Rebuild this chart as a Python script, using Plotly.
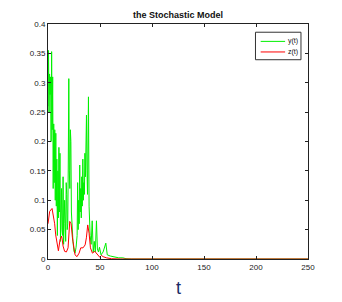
import plotly.graph_objects as go

# y(t) series (green)
t_y = [0, 0.5, 1, 1.5, 2, 2.5, 3, 3.5, 4, 4.5, 5, 5.5, 6, 6.5, 7, 7.5, 8, 8.5, 9, 9.5,
       10, 10.5, 11, 11.5, 12, 12.5, 13, 13.5, 14, 14.5, 15, 15.5, 16, 16.5, 17, 17.5,
       18, 18.5, 19, 19.5, 20, 20.5, 21, 21.5, 22, 22.5, 23, 24, 25, 26, 27, 28, 28.5,
       29, 29.5, 30, 30.5, 31, 31.5, 32, 32.5, 33, 33.5, 34, 34.5, 35, 35.5, 36, 36.5,
       37, 37.5, 38, 38.9, 39.5, 40.5, 41.5, 42.5, 43.5, 44.5, 45.5, 46.6, 47.5, 48.5,
       49.5, 51, 53, 55.6, 57, 60, 62, 65, 68, 72, 75, 80, 150, 250]
y_vals = [0.26, 0.355, 0.25, 0.315, 0.28, 0.31, 0.2, 0.353, 0.22, 0.31, 0.12, 0.23, 0.13,
          0.22, 0.1, 0.214, 0.09, 0.17, 0.04, 0.15, 0.07, 0.19, 0.08, 0.18, 0.03, 0.09,
          0.12, 0.05, 0.04, 0.14, 0.025, 0.06, 0.1, 0.04, 0.03, 0.13, 0.11, 0.05, 0.06,
          0.16, 0.307, 0.15, 0.12, 0.22, 0.2, 0.08, 0.06, 0.03, 0.013, 0.01, 0.02, 0.04,
          0.13, 0.05, 0.1, 0.06, 0.16, 0.08, 0.12, 0.07, 0.14, 0.09, 0.17, 0.1, 0.13,
          0.11, 0.18, 0.14, 0.2, 0.245, 0.15, 0.11, 0.276, 0.09, 0.04, 0.025, 0.065,
          0.012, 0.03, 0.012, 0.065, 0.017, 0.012, 0.02, 0.007, 0.012, 0.027, 0.007,
          0.005, 0.004, 0.003, 0.002, 0.002, 0.0005, 0, 0, 0]

# z(t) series (red)
t_z = [0, 0.6, 1.6, 3.9, 4.8, 6.4, 7.4, 8.7, 10, 11.6, 13.2, 14.5, 16, 17.7, 19.3, 20.9,
       22.2, 23.5, 24.7, 26, 27.9, 29.9, 31.5, 33.7, 35.7, 36.9, 38.2, 39.5, 40.8, 42.7,
       45, 46.6, 48.5, 49.8, 51.4, 53, 56.2, 61, 70, 150, 250]
z_vals = [0.06, 0.07, 0.081, 0.086, 0.078, 0.06, 0.041, 0.027, 0.014, 0.033, 0.039, 0.022,
          0.013, 0.012, 0.019, 0.064, 0.06, 0.036, 0.019, 0.007, 0.004, 0.01, 0.019, 0.019,
          0.024, 0.036, 0.058, 0.044, 0.019, 0.01, 0.013, 0.01, 0.005, 0.003, 0.006, 0.004,
          0.002, 0.0005, 0, 0, 0]

series_names = ["y(t)", "z(t)"]
series_colors = ["#00f000", "#ff0000"]

x_ticks = [0, 50, 100, 150, 200, 250]
y_ticks = [0, 0.05, 0.1, 0.15, 0.2, 0.25, 0.3, 0.35, 0.4]
y_tick_labels = ["0", "0.05", "0.1", "0.15", "0.2", "0.25", "0.3", "0.35", "0.4"]

fig = go.Figure()
fig.add_trace(go.Scatter(x=t_y, y=y_vals, mode="lines", name=series_names[0],
                         line=dict(color=series_colors[0], width=1), showlegend=False))
fig.add_trace(go.Scatter(x=t_z, y=z_vals, mode="lines", name=series_names[1],
                         line=dict(color=series_colors[1], width=1), showlegend=False))

# Compact boxed legend (MATLAB style), placed in paper coordinates
fig.add_shape(type="rect", xref="paper", yref="paper", x0=0.798, x1=0.973,
              y0=0.848, y1=0.965, line=dict(color="#333", width=1), fillcolor="white")
for i, (nm, col) in enumerate(zip(series_names, series_colors)):
    yy = 0.926 - i * 0.045
    fig.add_shape(type="line", xref="paper", yref="paper", x0=0.818, x1=0.912,
                  y0=yy, y1=yy, line=dict(color=col, width=1))
    fig.add_annotation(xref="paper", yref="paper", x=0.916, y=yy, text=nm,
                       showarrow=False, xanchor="left", yanchor="middle",
                       font=dict(family="Liberation Sans, Arial", size=7, color="#111"))

# x-axis title "t"
fig.add_annotation(xref="paper", yref="paper", x=0.5, y=-0.125, text="t",
                   showarrow=False, xanchor="center", yanchor="middle",
                   font=dict(family="Liberation Sans, Arial", size=18, color="#1b2a66"))

axis_common = dict(showline=True, linecolor="#222", linewidth=1, mirror="ticks",
                   ticks="inside", ticklen=3, tickcolor="#222", showgrid=False,
                   zeroline=False, automargin=False,
                   tickfont=dict(family="Liberation Sans, Arial", size=8, color="#222"))

# The page body has an 8px margin, so the figure is drawn at (8, 8).
fig.update_layout(
    width=334, height=294,
    margin=dict(l=40, r=34, t=16, b=43),
    paper_bgcolor="white", plot_bgcolor="white",
    title=dict(text="<b>the Stochastic Model</b>", x=0.5, xanchor="center",
               xref="paper", y=1 - 7 / 294, yanchor="middle",
               font=dict(family="Liberation Sans, Arial", size=9, color="#111")),
    xaxis=dict(range=[0, 250], tickvals=x_ticks, **axis_common),
    yaxis=dict(range=[0, 0.4], tickvals=y_ticks, ticktext=y_tick_labels, **axis_common),
    showlegend=False,
)

fig.write_html("out.html")
